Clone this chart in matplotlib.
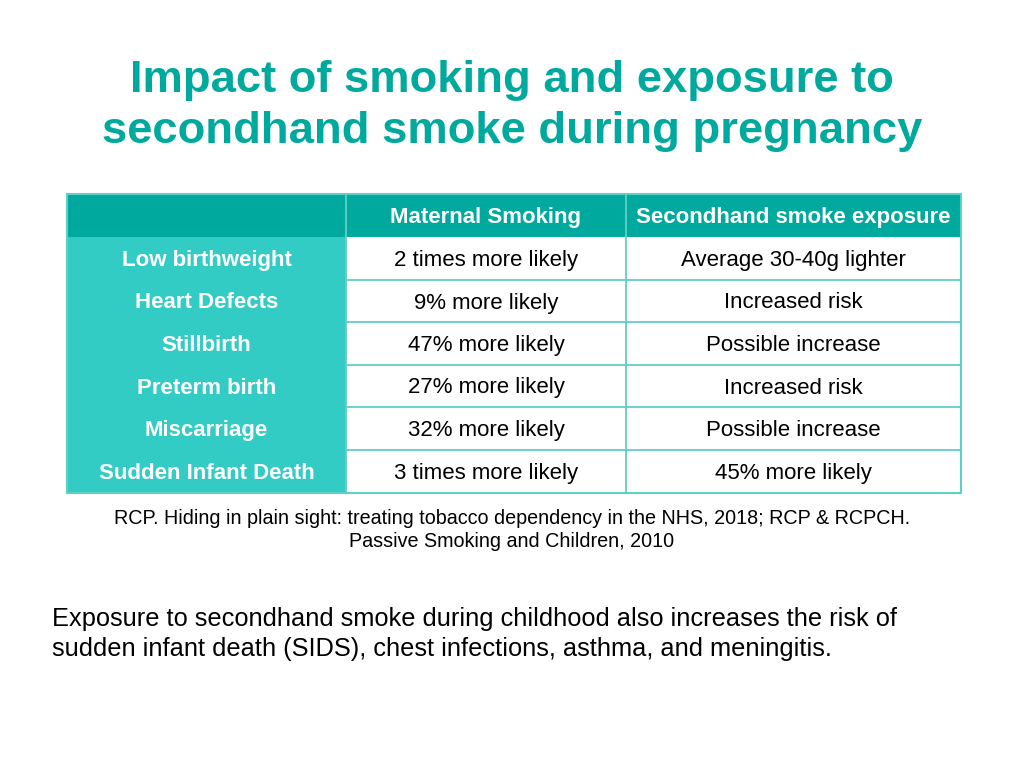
import matplotlib.pyplot as plt
from matplotlib.patches import Rectangle

plt.rcParams['font.family'] = ['Liberation Sans', 'DejaVu Sans']

title = "Impact of smoking and exposure to\nsecondhand smoke during pregnancy"
col_headers = ["", "Maternal Smoking", "Secondhand smoke exposure"]
outcomes = ["Low birthweight", "Heart Defects", "Stillbirth", "Preterm birth",
            "Miscarriage", "Sudden Infant Death"]
maternal = ["2 times more likely", "9% more likely", "47% more likely",
            "27% more likely", "32% more likely", "3 times more likely"]
secondhand = ["Average 30-40g lighter", "Increased risk", "Possible increase",
              "Increased risk", "Possible increase", "45% more likely"]
source = ("RCP. Hiding in plain sight: treating tobacco dependency in the NHS, 2018; RCP & RCPCH.\n"
          "Passive Smoking and Children, 2010")
note = ("Exposure to secondhand smoke during childhood also increases the risk of\n"
        "sudden infant death (SIDS), chest infections, asthma, and meningitis.")

teal = "#00A99D"
light = "#33CCC4"
line = "#5FCFC9"

fig = plt.figure(figsize=(10.24, 7.68), dpi=100)
ax = fig.add_axes([0, 0, 1, 1])
ax.set_xlim(0, 1024)
ax.set_ylim(768, 0)
ax.axis('off')

ax.text(512, 106, title, ha='center', va='center', fontsize=32.7, fontweight='bold',
        color=teal, linespacing=1.3)

col_x = [67, 346, 626, 961]
row_y = [194, 237, 280, 322, 365, 407, 450, 493]
fs = 16
base = 7.5  # baseline offset below row centre

# header row
ax.add_patch(Rectangle((col_x[0], row_y[0]), col_x[-1] - col_x[0], row_y[1] - row_y[0],
                       facecolor=teal, edgecolor='none'))
for j, h in enumerate(col_headers):
    xc = (col_x[j] + col_x[j + 1]) / 2
    ax.text(xc, (row_y[0] + row_y[1]) / 2 + base, h, ha='center', va='baseline',
            fontsize=fs, fontweight='bold', color='white')

# first column
ax.add_patch(Rectangle((col_x[0], row_y[1]), col_x[1] - col_x[0], row_y[-1] - row_y[1],
                       facecolor=light, edgecolor='none'))

for i in range(len(outcomes)):
    yc = (row_y[i + 1] + row_y[i + 2]) / 2 + base
    ax.text((col_x[0] + col_x[1]) / 2, yc, outcomes[i], ha='center', va='baseline',
            fontsize=fs, fontweight='bold', color='white')
    ax.text((col_x[1] + col_x[2]) / 2, yc, maternal[i], ha='center', va='baseline',
            fontsize=fs, color='black')
    ax.text((col_x[2] + col_x[3]) / 2, yc, secondhand[i], ha='center', va='baseline',
            fontsize=fs, color='black')

# grid lines in the white area
for y in row_y[2:-1]:
    ax.plot([col_x[1], col_x[3]], [y, y], color=line, lw=1.3)
ax.plot([col_x[2], col_x[2]], [row_y[0], row_y[-1]], color=line, lw=1.3)
ax.plot([col_x[1], col_x[1]], [row_y[0], row_y[-1]], color=line, lw=1.3)
ax.add_patch(Rectangle((col_x[0], row_y[0]), col_x[-1] - col_x[0], row_y[-1] - row_y[0],
                       facecolor='none', edgecolor=line, lw=1.5))

ax.text(512, 530, source, ha='center', va='center', fontsize=14.2, color='black',
        linespacing=1.25)

ax.text(52, 634, note, ha='left', va='center', fontsize=18.3, color='black',
        linespacing=1.35)

fig.savefig("out.png", dpi=100)
